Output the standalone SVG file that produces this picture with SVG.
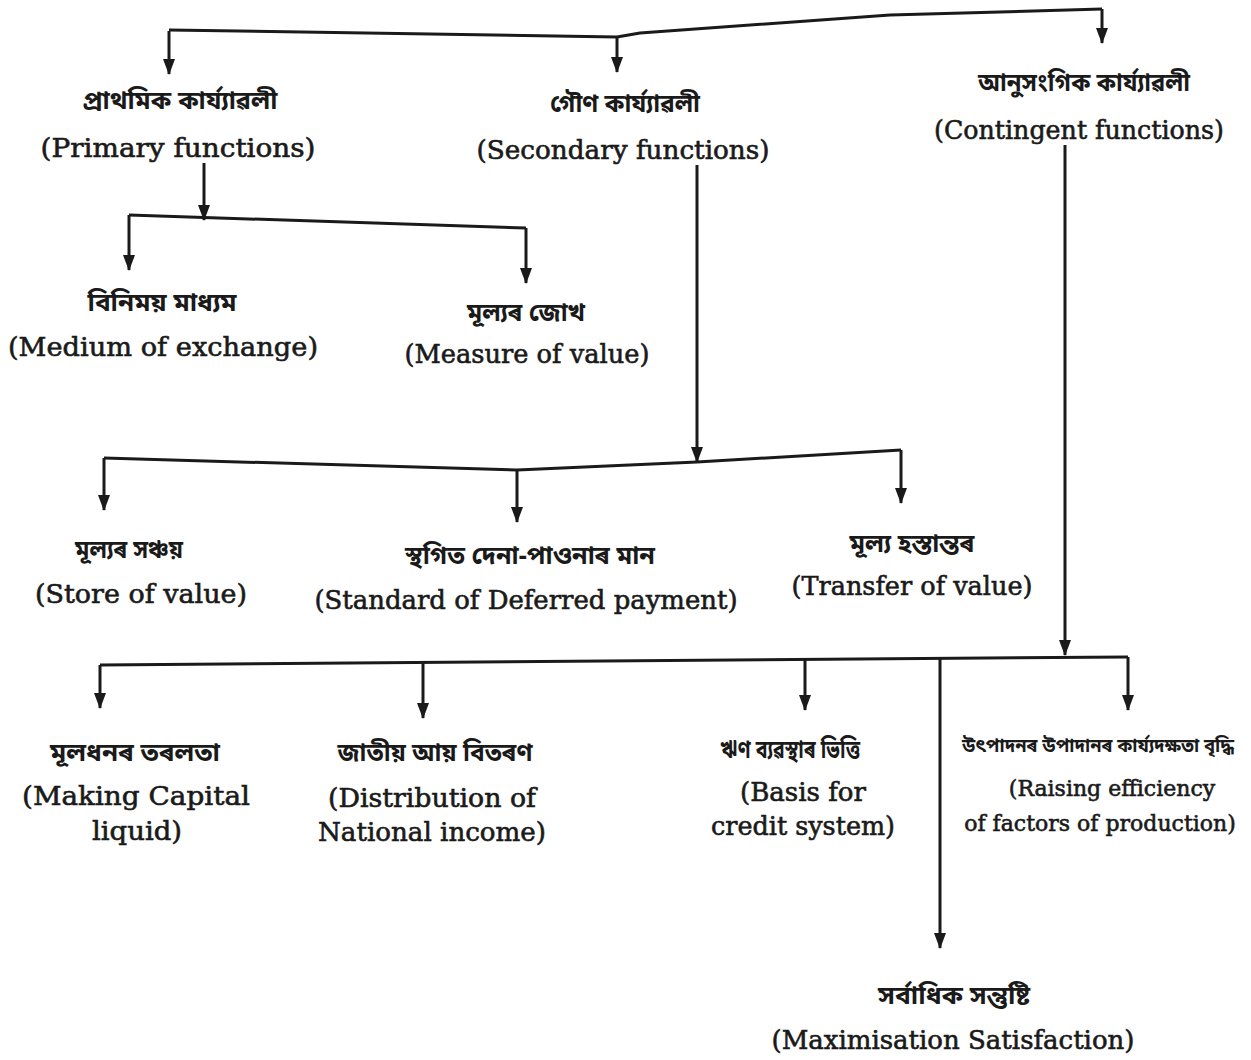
<svg xmlns="http://www.w3.org/2000/svg" width="1251" height="1060" viewBox="0 0 1251 1060">
<style>
.en{font-family:"DejaVu Serif","Liberation Serif",serif;font-size:26px;fill:#1a1a1a;stroke:#1a1a1a;stroke-width:0.6;text-anchor:middle}
.sm{font-size:22px}
.as{font-family:"Noto Sans Bengali","Noto Serif Bengali","Lohit Assamese","Lohit Bengali","Noto Sans",sans-serif;font-size:25px;font-weight:bold;fill:#1a1a1a;text-anchor:middle}
.as19{font-size:19px}
.ln{fill:none;stroke:#1a1a1a;stroke-width:3;stroke-linejoin:round}
.ar{fill:none;stroke:#1a1a1a;stroke-width:3;marker-end:url(#ah)}
</style>
<defs>
<marker id="ah" viewBox="0 -6 16 12" refX="15" refY="0" markerWidth="16" markerHeight="12" markerUnits="userSpaceOnUse" orient="auto">
<path d="M0,-6 L16,0 L0,6 z" fill="#1a1a1a"/>
</marker>
</defs>
<rect width="1251" height="1060" fill="#ffffff"/>
<g id="connectors">
<path class="ln" d="M169,30 L617,37 L640,33 L890,15 L1102,9"/>
<path class="ar" d="M169,31 V74"/>
<path class="ar" d="M617,37 V72"/>
<path class="ar" d="M1102,9 V43"/>
<path class="ar" d="M204,163 V220"/>
<path class="ln" d="M129,215 L526,228"/>
<path class="ar" d="M129,215 V270"/>
<path class="ar" d="M526,228 V283"/>
<path class="ar" d="M697,165 V462"/>
<path class="ln" d="M104,458 L517,470 L697,462 L901,450"/>
<path class="ar" d="M104,458 V510"/>
<path class="ar" d="M517,470 V522"/>
<path class="ar" d="M901,450 V503"/>
<path class="ar" d="M1065,145 V655"/>
<path class="ln" d="M100,665 L1128,657"/>
<path class="ar" d="M100,665 V708"/>
<path class="ar" d="M423,663 V718"/>
<path class="ar" d="M805,660 V710"/>
<path class="ar" d="M940,659 V948"/>
<path class="ar" d="M1128,657 V710"/>
</g>
<g id="primary">
<text class="as" x="180" y="109" textLength="195" lengthAdjust="spacingAndGlyphs">প্ৰাথমিক কাৰ্য্যাৱলী</text>
<text class="en" x="178" y="157" textLength="275" lengthAdjust="spacingAndGlyphs">(Primary functions)</text>
</g>
<g id="secondary">
<text class="as" x="625" y="112" textLength="150" lengthAdjust="spacingAndGlyphs">গৌণ কাৰ্য্যাৱলী</text>
<text class="en" x="623" y="159" textLength="293" lengthAdjust="spacingAndGlyphs">(Secondary functions)</text>
</g>
<g id="contingent">
<text class="as" x="1084" y="91" textLength="212" lengthAdjust="spacingAndGlyphs">আনুসংগিক কাৰ্য্যাৱলী</text>
<text class="en" x="1079" y="139" textLength="290" lengthAdjust="spacingAndGlyphs">(Contingent functions)</text>
</g>
<g id="medium">
<text class="as" x="162" y="311" textLength="149" lengthAdjust="spacingAndGlyphs">বিনিময় মাধ্যম</text>
<text class="en" x="163" y="356" textLength="310" lengthAdjust="spacingAndGlyphs">(Medium of exchange)</text>
</g>
<g id="measure">
<text class="as" x="526" y="321" textLength="118" lengthAdjust="spacingAndGlyphs">মূল্যৰ জোখ</text>
<text class="en" x="527" y="363" textLength="245" lengthAdjust="spacingAndGlyphs">(Measure of value)</text>
</g>
<g id="store">
<text class="as" x="129" y="558" textLength="108" lengthAdjust="spacingAndGlyphs">মূল্যৰ সঞ্চয়</text>
<text class="en" x="141" y="603" textLength="212" lengthAdjust="spacingAndGlyphs">(Store of value)</text>
</g>
<g id="deferred">
<text class="as" x="530" y="564" textLength="250" lengthAdjust="spacingAndGlyphs">স্থগিত দেনা-পাওনাৰ মান</text>
<text class="en" x="526" y="609" textLength="423" lengthAdjust="spacingAndGlyphs">(Standard of Deferred payment)</text>
</g>
<g id="transfer">
<text class="as" x="912" y="552" textLength="125" lengthAdjust="spacingAndGlyphs">মূল্য হস্তান্তৰ</text>
<text class="en" x="912" y="595" textLength="241" lengthAdjust="spacingAndGlyphs">(Transfer of value)</text>
</g>
<g id="capital">
<text class="as" x="135" y="761" textLength="170" lengthAdjust="spacingAndGlyphs">মূলধনৰ তৰলতা</text>
<text class="en" x="136" y="805" textLength="228" lengthAdjust="spacingAndGlyphs">(Making Capital</text>
<text class="en" x="137" y="840" textLength="90" lengthAdjust="spacingAndGlyphs">liquid)</text>
</g>
<g id="distribution">
<text class="as" x="435" y="761" textLength="195" lengthAdjust="spacingAndGlyphs">জাতীয় আয় বিতৰণ</text>
<text class="en" x="432" y="807" textLength="208" lengthAdjust="spacingAndGlyphs">(Distribution of</text>
<text class="en" x="432" y="841" textLength="228" lengthAdjust="spacingAndGlyphs">National income)</text>
</g>
<g id="credit">
<text class="as" x="790" y="758" textLength="140" lengthAdjust="spacingAndGlyphs">ঋণ ব্যৱস্থাৰ ভিত্তি</text>
<text class="en" x="803" y="801" textLength="126" lengthAdjust="spacingAndGlyphs">(Basis for</text>
<text class="en" x="803" y="835" textLength="184" lengthAdjust="spacingAndGlyphs">credit system)</text>
</g>
<g id="efficiency">
<text class="as as19" x="1098" y="752" textLength="272" lengthAdjust="spacingAndGlyphs">উৎপাদনৰ উপাদানৰ কাৰ্য্যদক্ষতা বৃদ্ধি</text>
<text class="en sm" x="1112" y="796">(Raising efficiency</text>
<text class="en sm" x="1100" y="831">of factors of production)</text>
</g>
<g id="maximisation">
<text class="as" x="954" y="1004" textLength="152" lengthAdjust="spacingAndGlyphs">সৰ্বাধিক সন্তুষ্টি</text>
<text class="en" x="953" y="1049" textLength="363" lengthAdjust="spacingAndGlyphs">(Maximisation Satisfaction)</text>
</g>
</svg>
